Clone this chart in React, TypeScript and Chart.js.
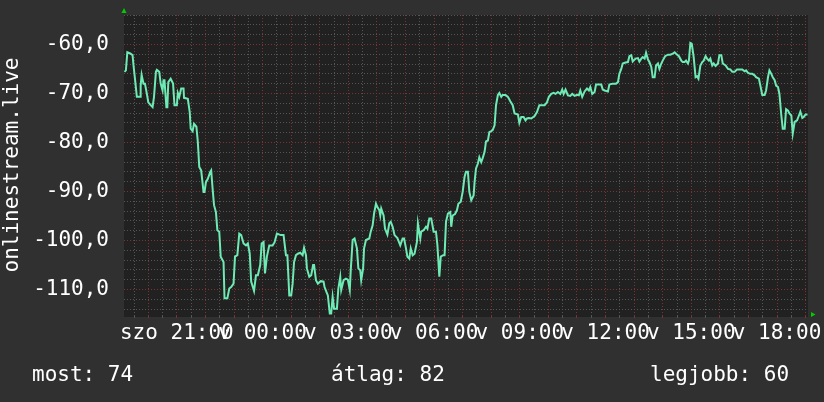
import React, { useEffect, useRef } from "react";
import { Chart, registerables } from "chart.js";

Chart.register(...registerables);

// Time axis: minutes since Saturday (szo) 00:00; window starts at szo 19:09
const START_MIN = 1149;
const SPAN_MIN = 1436;

// minutes after window start
const times = [
  1, 4, 7, 14, 18, 20, 23, 27, 34, 35, 37, 41, 44, 48, 51, 56, 60, 63, 67, 69,
  74, 77, 81, 83, 85, 89, 91, 93, 98, 103, 106, 111, 113, 116, 120, 125, 126, 134, 138, 140,
  144, 147, 152, 155, 158, 162, 167, 169, 172, 176, 181, 183, 186, 189, 193, 196, 200, 203, 209, 211,
  217, 221, 225, 230, 233, 238, 242, 246, 251, 256, 260, 264, 267, 273, 277, 281, 286, 289, 293, 296,
  300, 305, 312, 316, 321, 329, 335, 340, 343, 347, 351, 354, 357, 361, 365, 370, 375, 378, 382, 384,
  389, 393, 397, 399, 403, 407, 413, 419, 421, 425, 428, 432, 435, 438, 441, 447, 450, 454, 456, 461,
  466, 470, 474, 476, 480, 484, 489, 492, 496, 498, 502, 504, 508, 515, 518, 522, 525, 529, 532, 536,
  538, 540, 545, 548, 553, 557, 560, 564, 568, 574, 580, 585, 588, 592, 595, 599, 602, 606, 610, 615,
  617, 622, 624, 629, 634, 637, 641, 645, 650, 655, 658, 662, 665, 670, 673, 676, 680, 685, 687, 690,
  695, 699, 702, 707, 711, 715, 718, 722, 725, 729, 734, 736, 739, 743, 746, 750, 753, 757, 760, 764,
  767, 771, 774, 778, 781, 785, 788, 792, 795, 801, 806, 811, 816, 820, 827, 830, 834, 839, 843, 846,
  850, 855, 862, 867, 872, 878, 883, 888, 892, 897, 902, 906, 911, 916, 920, 923, 927, 932, 937, 941,
  946, 951, 955, 958, 962, 967, 972, 976, 979, 983, 988, 991, 997, 1002, 1005, 1009, 1016, 1019, 1026, 1033,
  1037, 1040, 1044, 1047, 1053, 1058, 1061, 1065, 1068, 1074, 1079, 1082, 1086, 1089, 1093, 1096, 1100, 1103, 1107, 1110,
  1114, 1117, 1121, 1124, 1128, 1131, 1136, 1142, 1147, 1152, 1156, 1159, 1165, 1170, 1173, 1177, 1180, 1184, 1186, 1189,
  1192, 1196, 1200, 1203, 1206, 1210, 1214, 1217, 1221, 1224, 1228, 1231, 1235, 1238, 1242, 1247, 1250, 1254, 1257, 1263,
  1268, 1273, 1277, 1282, 1287, 1292, 1298, 1303, 1306, 1310, 1315, 1319, 1324, 1327, 1333, 1336, 1340, 1345, 1348, 1352,
  1355, 1359, 1362, 1366, 1369, 1373, 1376, 1380, 1383, 1387, 1390, 1394, 1397, 1401, 1404, 1408, 1413, 1417, 1420, 1424,
  1427, 1431, 1435,
];

const values = [
  -65.6, -65.3, -61.6, -61.9, -62.2, -64.3, -67.0, -70.7, -70.7, -68.4, -66.2, -68.0, -68.0, -70.1, -71.8, -72.4, -72.8, -70.7, -65.6, -65.2,
  -65.6, -68.0, -69.4, -67.3, -67.3, -72.8, -72.8, -67.7, -67.0, -68.0, -72.4, -72.4, -69.9, -70.7, -69.0, -69.0, -70.9, -71.1, -73.8, -77.2,
  -77.7, -76.2, -76.8, -79.9, -85.0, -85.7, -90.1, -90.1, -88.1, -87.4, -86.0, -85.7, -89.4, -92.8, -94.2, -97.9, -98.2, -103.3, -104.4, -111.8,
  -111.8, -109.8, -109.5, -108.8, -103.3, -103.0, -98.6, -98.9, -100.6, -101.0, -100.6, -102.7, -108.4, -110.3, -107.1, -107.1, -105.0, -100.6, -100.3, -106.7,
  -103.3, -101.0, -101.0, -100.4, -98.6, -98.9, -98.9, -103.0, -103.0, -111.2, -111.2, -108.8, -104.4, -103.0, -102.7, -102.5, -103.0, -101.5, -103.0, -105.7,
  -107.4, -107.1, -105.0, -105.0, -108.1, -108.8, -108.3, -108.4, -109.5, -110.5, -111.2, -114.9, -114.9, -111.5, -113.9, -113.9, -109.8, -107.4, -110.1, -108.1,
  -107.8, -108.0, -110.1, -106.1, -99.9, -99.6, -101.6, -105.7, -106.1, -108.1, -105.7, -101.6, -99.9, -99.6, -98.2, -96.9, -94.5, -92.5, -93.2, -93.8,
  -94.9, -93.5, -94.9, -97.6, -98.8, -96.5, -96.2, -97.2, -98.9, -99.5, -101.0, -99.6, -99.6, -101.6, -103.3, -103.7, -101.6, -103.0, -102.7, -100.3,
  -96.5, -99.6, -98.2, -97.9, -97.2, -97.6, -95.5, -95.5, -98.2, -98.2, -101.0, -107.4, -103.3, -103.0, -103.0, -96.2, -94.5, -94.2, -97.2, -94.9,
  -94.6, -93.8, -92.5, -92.1, -90.1, -87.0, -86.0, -86.0, -90.1, -91.8, -90.8, -88.1, -85.3, -84.3, -83.0, -84.0, -83.2, -81.9, -79.8, -79.6,
  -77.9, -77.7, -77.5, -76.5, -72.4, -70.3, -69.9, -70.7, -70.3, -70.3, -70.7, -71.6, -72.4, -74.1, -74.3, -76.0, -74.8, -74.8, -75.5, -75.1,
  -75.0, -75.1, -74.6, -73.8, -72.4, -72.4, -72.4, -71.8, -70.7, -70.1, -69.9, -70.1, -69.7, -70.1, -69.2, -70.1, -69.2, -70.4, -70.5, -70.1,
  -70.5, -70.3, -70.4, -69.4, -70.7, -69.6, -69.0, -69.4, -68.7, -70.1, -69.7, -68.2, -68.2, -68.2, -69.2, -69.4, -69.6, -68.2, -68.0, -68.0,
  -67.7, -66.0, -65.0, -63.9, -63.7, -63.6, -62.4, -62.2, -63.5, -62.9, -62.8, -63.5, -62.9, -62.6, -62.9, -61.7, -63.1, -63.6, -64.6, -66.7,
  -66.7, -64.3, -63.9, -65.0, -63.9, -63.3, -62.4, -62.1, -62.1, -61.9, -61.6, -61.9, -62.4, -63.3, -63.6, -63.6, -63.3, -63.9, -63.3, -59.7,
  -59.9, -62.6, -66.7, -66.5, -67.0, -64.3, -63.6, -63.3, -62.4, -62.9, -63.3, -62.9, -64.3, -63.9, -64.4, -63.9, -62.2, -62.2, -63.9, -64.3,
  -65.0, -65.1, -65.6, -65.6, -65.1, -65.1, -65.1, -65.5, -65.3, -65.8, -66.0, -66.0, -66.3, -66.7, -67.0, -68.4, -70.3, -70.3, -69.4, -66.7,
  -65.3, -66.0, -66.7, -67.3, -68.4, -68.7, -70.1, -74.5, -77.2, -77.2, -73.2, -73.5, -74.1, -74.5, -78.2, -75.8, -75.5, -74.5, -73.7, -75.0,
  -74.8, -74.3, -74.3,
];

// x-axis labels (every 3 hours)
const xLabelMinutes = [1260, 1440, 1620, 1800, 1980, 2160, 2340, 2520];
const xLabels = ["szo 21:00", "v 00:00", "v 03:00", "v 06:00", "v 09:00", "v 12:00", "v 15:00", "v 18:00"];

// y-axis labels
const yLabelValues = [-60, -70, -80, -90, -100, -110];
const yLabels = ["-60,0", "-70,0", "-80,0", "-90,0", "-100,0", "-110,0"];
const Y_MIN = -115.2;
const Y_MAX = -54;

const yAxisTitle = "onlinestream.live";

// summary row
const statLabels = ["most", "átlag", "legjobb"];
const statValues = [74, 82, 60];

const FONT = "'DejaVu Sans Mono', monospace";
const OUTER_BG = "#303030";
const PLOT_BG = "#212121";
const GRID_MINOR = "#555555";
const GRID_MAJOR = "#7a3434";
const LINE_COLOR = "#6eeab4";
const ARROW = "#00cc00";

export default function App() {
  const canvasRef = useRef<HTMLCanvasElement | null>(null);

  useEffect(() => {
    const canvas = canvasRef.current;
    if (!canvas) return;

    const xGridTicks: number[] = [];
    for (let m = 1170; m <= START_MIN + SPAN_MIN; m += 30) xGridTicks.push(m);
    const yGridTicks: number[] = [];
    for (let v = -114; v <= Y_MAX; v += 2) yGridTicks.push(v);

    const bgPlugin = {
      id: "rrdBg",
      beforeDraw(chart: any) {
        const { ctx, chartArea } = chart;
        ctx.save();
        ctx.fillStyle = OUTER_BG;
        ctx.fillRect(0, 0, chart.width, chart.height);
        ctx.fillStyle = PLOT_BG;
        ctx.fillRect(chartArea.left, chartArea.top, chartArea.right - chartArea.left, chartArea.bottom - chartArea.top + 2);
        ctx.restore();
      },
      afterDraw(chart: any) {
        const { ctx, chartArea } = chart;
        ctx.save();
        ctx.fillStyle = ARROW;
        const l = chartArea.left;
        const t = chartArea.top;
        ctx.beginPath();
        ctx.moveTo(l - 2.5, t - 2);
        ctx.lineTo(l + 2.5, t - 2);
        ctx.lineTo(l, t - 7);
        ctx.closePath();
        ctx.fill();
        const r = chartArea.right;
        const b = chartArea.bottom;
        ctx.beginPath();
        ctx.moveTo(r + 3, b - 3);
        ctx.lineTo(r + 3, b + 2);
        ctx.lineTo(r + 7.5, b - 0.5);
        ctx.closePath();
        ctx.fill();
        ctx.restore();
      },
    };

    const chart = new Chart(canvas, {
      type: "line",
      data: {
        datasets: [
          {
            data: times.map((t, i) => ({ x: START_MIN + t, y: values[i] })),
            borderColor: LINE_COLOR,
            borderWidth: 2,
            pointRadius: 0,
            tension: 0,
            fill: false,
          },
        ],
      },
      options: {
        animation: false,
        responsive: false,
        maintainAspectRatio: false,
        layout: { padding: { left: 0, top: 15, right: 16, bottom: 47 } },
        plugins: { legend: { display: false }, tooltip: { enabled: false } },
        scales: {
          x: {
            type: "linear",
            min: START_MIN,
            max: START_MIN + SPAN_MIN,
            afterBuildTicks: (s: any) => {
              s.ticks = xGridTicks.map((v) => ({ value: v }));
            },
            afterFit: (s: any) => {
              s.height = 40;
              s.paddingLeft = 0;
              s.paddingRight = 0;
            },
            grid: {
              color: (c: any) => (c.tick && c.tick.value % 60 === 0 ? GRID_MAJOR : GRID_MINOR),
              tickColor: (c: any) => (c.tick && c.tick.value % 60 === 0 ? GRID_MAJOR : GRID_MINOR),
              lineWidth: 1,
              drawTicks: true,
              tickLength: 3,
            },
            border: { display: false, dash: [1, 2] },
            ticks: {
              autoSkip: false,
              maxRotation: 0,
              minRotation: 0,
              padding: 3,
              color: "#ffffff",
              font: { family: FONT, size: 21 },
              callback: (v: any) => {
                const i = xLabelMinutes.indexOf(Number(v));
                return i >= 0 ? xLabels[i] : "";
              },
            },
          },
          y: {
            type: "linear",
            min: Y_MIN,
            max: Y_MAX,
            afterBuildTicks: (s: any) => {
              s.ticks = yGridTicks.map((v) => ({ value: v }));
            },
            afterFit: (s: any) => {
              s.width = 124;
              s.paddingTop = 0;
              s.paddingBottom = 0;
            },
            grid: {
              color: (c: any) => (c.tick && c.tick.value % 10 === 0 ? GRID_MAJOR : GRID_MINOR),
              lineWidth: 1,
              drawTicks: false,
            },
            border: { display: false, dash: [1, 2] },
            ticks: {
              autoSkip: false,
              padding: 15,
              color: "#ffffff",
              font: { family: FONT, size: 21 },
              callback: (v: any) => {
                const i = yLabelValues.indexOf(Number(v));
                return i >= 0 ? yLabels[i] : "";
              },
            },
            title: {
              display: true,
              text: yAxisTitle,
              color: "#ffffff",
              font: { family: FONT, size: 21 },
              padding: { top: 0, bottom: 0 },
            },
          },
        },
      },
      plugins: [bgPlugin],
    } as any);

    return () => chart.destroy();
  }, []);

  const statLeft = [32, 331, 650];

  return (
    <div style={{ position: "fixed", left: 0, top: 0, width: 824, height: 402, background: OUTER_BG, overflow: "hidden" }}>
      <canvas ref={canvasRef} width={824} height={402} style={{ display: "block", width: 824, height: 402 }} />
      {statLabels.map((lab, i) => (
        <div
          key={lab}
          style={{
            position: "absolute",
            left: statLeft[i],
            top: 362,
            fontFamily: FONT,
            fontSize: 21,
            lineHeight: "24px",
            color: "#ffffff",
            whiteSpace: "pre",
          }}
        >
          {`${lab}: ${statValues[i]}`}
        </div>
      ))}
    </div>
  );
}
